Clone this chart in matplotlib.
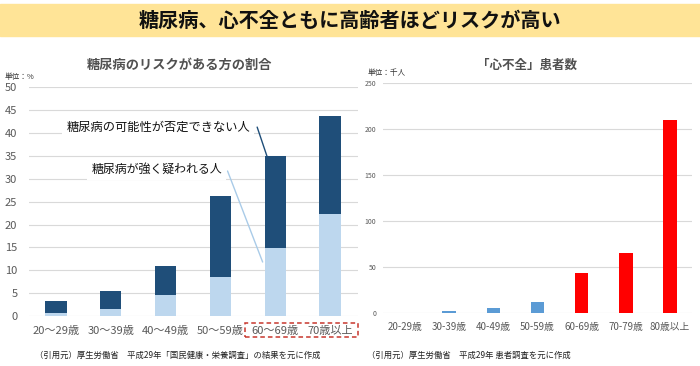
import matplotlib
matplotlib.use("Agg")
import matplotlib.pyplot as plt
from matplotlib.patches import Rectangle

plt.rcParams["font.family"] = ["Noto Sans CJK JP", "DejaVu Sans"]

# left: diabetes risk share (%)
dm_ages = ["20～29歳", "30～39歳", "40～49歳", "50～59歳", "60～69歳", "70歳以上"]
dm_strong = [0.7, 1.6, 4.6, 8.6, 14.8, 22.4]      # 強く疑われる人
dm_total = [3.2, 5.5, 10.9, 26.3, 34.9, 43.7]     # + 否定できない人
dm_possible = [t - s for t, s in zip(dm_total, dm_strong)]

# right: heart failure patients (thousand)
hf_ages = ["20-29歳", "30-39歳", "40-49歳", "50-59歳", "60-69歳", "70-79歳", "80歳以上"]
hf_count = [0, 2.5, 6, 12.6, 43.8, 66, 210]

DARK = "#1F4E79"
LIGHT = "#BDD7EE"
BLUE = "#5B9BD5"
RED = "#FF0000"
GRID = "#D9D9D9"
TXT = "#595959"

W, H = 700, 366
fig = plt.figure(figsize=(W / 100, H / 100), dpi=100)

# banner
fig.patches.append(Rectangle((0, 1 - 36 / H), 1, 32 / H, transform=fig.transFigure,
                             color="#FFE497", zorder=0))
fig.text(0.5, 1 - 20 / H, "糖尿病、心不全ともに高齢者ほどリスクが高い",
         ha="center", va="center", fontsize=14.5, fontweight="bold", color="#111")


def style(ax, step, top):
    for s in ax.spines.values():
        s.set_visible(False)
    ax.set_yticks(range(0, top + 1, step))
    ax.set_ylim(0, top)
    ax.grid(axis="y", color=GRID, lw=0.8)
    ax.set_axisbelow(True)
    ax.tick_params(length=0, colors=TXT)


# ---- left chart
ax1 = fig.add_axes([28.5 / W, 50 / H, 329 / W, 228.7 / H])
x1 = range(len(dm_ages))
ax1.bar(x1, dm_strong, width=0.39, color=LIGHT)
ax1.bar(x1, dm_possible, bottom=dm_strong, width=0.39, color=DARK)
style(ax1, 5, 50)
ax1.set_xlim(-0.5, len(dm_ages) - 0.5)
ax1.set_xticks(list(x1), dm_ages, fontsize=8)
ax1.tick_params(axis="x", pad=7)
ax1.tick_params(axis="y", labelsize=8, pad=8)

# labels with white boxes, leader lines drawn separately
ax1.text(1.87, 41.3, "糖尿病の可能性が否定できない人", ha="center", va="center",
         fontsize=8.8, color="#111", bbox=dict(fc="white", ec="none", pad=3))
ax1.annotate("", xy=(3.85, dm_total[4]), xytext=(3.67, 41.3),
             arrowprops=dict(arrowstyle="-", color=DARK, lw=1, shrinkA=0, shrinkB=0))
ax1.text(1.84, 32.1, "糖尿病が強く疑われる人", ha="center", va="center",
         fontsize=8.6, color="#111", bbox=dict(fc="white", ec="none", pad=3))
ax1.annotate("", xy=(3.77, 11.8), xytext=(3.13, 31.7),
             arrowprops=dict(arrowstyle="-", color="#A9CBE8", lw=1, shrinkA=0, shrinkB=0))

fig.text(180 / W, 1 - 65 / H, "糖尿病のリスクがある方の割合", ha="center", va="center",
         fontsize=9.5, fontweight="bold", color="#505050")
fig.text(5 / W, 1 - 77 / H, "単位：%", ha="left", va="center", fontsize=5.5, color="#333")
fig.text(35 / W, 1 - 355 / H, "（引用元）厚生労働省　平成29年「国民健康・栄養調査」の結果を元に作成",
         ha="left", va="center", fontsize=6, color="#222")
fig.patches.append(Rectangle((245 / W, 1 - 337 / H), 113 / W, 14 / H, transform=fig.transFigure,
                             fill=False, ec="#C8372D", lw=1.1, ls=(0, (3, 2))))

# ---- right chart
ax2 = fig.add_axes([383 / W, 52.7 / H, 309 / W, 230 / H])
x2 = range(len(hf_ages))
ax2.bar(x2, hf_count, width=0.31, color=[BLUE] * 4 + [RED] * 3)
style(ax2, 50, 250)
ax2.set_xlim(-0.5, len(hf_ages) - 0.5)
ax2.set_xticks(list(x2), hf_ages, fontsize=7)
ax2.tick_params(axis="x", pad=6)
ax2.tick_params(axis="y", labelsize=5, pad=5)

fig.text(527 / W, 1 - 65 / H, "「心不全」患者数", ha="center", va="center",
         fontsize=9, fontweight="bold", color="#505050")
fig.text(368 / W, 1 - 73 / H, "単位：千人", ha="left", va="center", fontsize=5.5, color="#333")
fig.text(367 / W, 1 - 355 / H, "（引用元）厚生労働省　平成29年 患者調査を元に作成",
         ha="left", va="center", fontsize=6, color="#222")

fig.savefig("out.png", dpi=100)
